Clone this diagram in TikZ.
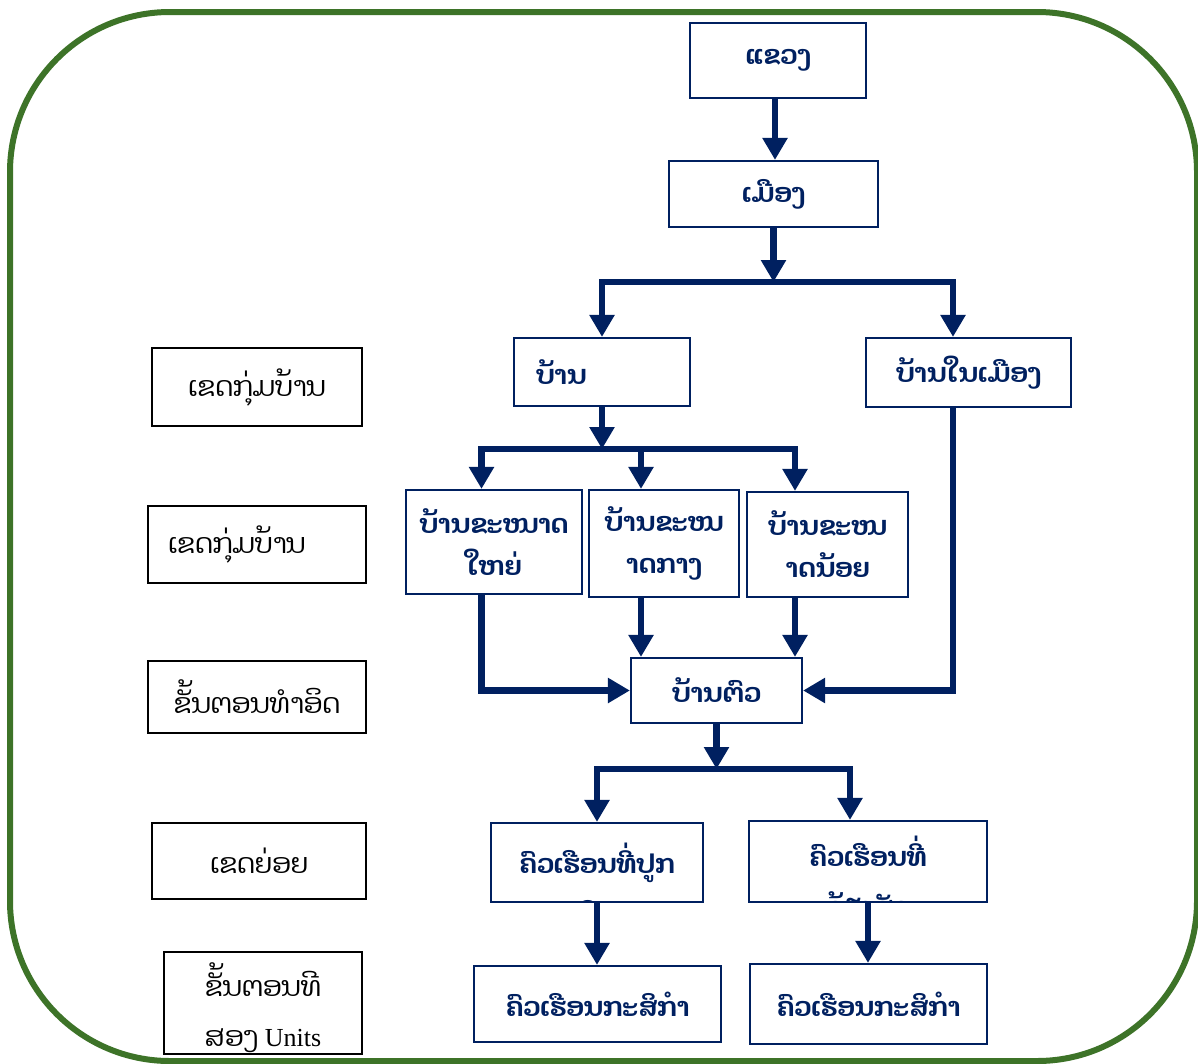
\documentclass[tikz,border=0pt]{standalone}
\usepackage{fontspec}
\setmainfont{Liberation Serif}
\newfontfamily\lao[Script=Lao]{Dhyana}
\usetikzlibrary{arrows.meta,calc}
\definecolor{navy}{RGB}{0,32,96}
\definecolor{framegreen}{RGB}{61,115,40}
\begin{document}
\begin{tikzpicture}[x=1pt,y=-1pt,
  bluebox/.style={draw=navy, line width=2.2pt, inner sep=0pt, text=navy, align=center,
    font=\lao\bfseries\fontsize{26.5}{42}\selectfont},
  bluetext/.style={inner sep=0pt, text=navy, align=center,
    font=\lao\bfseries\fontsize{26.5}{50}\selectfont},
  blackbox/.style={draw=black, line width=2.6pt, inner sep=0pt, align=center,
    font=\lao\fontsize{27.5}{50}\selectfont},
  arr/.style={draw=navy, line width=6.5pt, -{Triangle[width=24pt,length=22pt]}},
]
\useasboundingbox (0,0) rectangle (1198,1063);
\draw[framegreen, line width=6pt, rounded corners=160pt] (10,12) rectangle (1197,1061);

% right column (blue)
\node[bluebox, minimum width=176pt, minimum height=75pt] (khweng) at (778,60.5) {ແຂວງ};
\node[bluebox, minimum width=209pt, minimum height=66pt] (muang) at (773.5,194) {ເມືອງ};
\node[bluebox, minimum width=176pt, minimum height=68pt, text width=132pt, align=left] (ban) at (602,372) {ບ້ານ};
\node[bluebox, minimum width=205pt, minimum height=69pt] (banmuang) at (968.5,372.5) {ບ້ານໃນເມືອງ};
\node[bluebox, minimum width=176pt, minimum height=104pt] (big) at (494,542) {ບ້ານຂະໜາດ\\ໃຫຍ່};
\node[bluebox, minimum width=150pt, minimum height=107pt] (mid) at (664,543.5) {ບ້ານຂະໜ\\າດກາງ};
\node[bluebox, minimum width=161pt, minimum height=105pt] (small) at (827.5,544.5) {ບ້ານຂະໜ\\າດນ້ອຍ};
\node[bluebox, minimum width=171pt, minimum height=65pt] (tua) at (716.5,690.5) {ບ້ານຕົວ};
\begin{scope}
  \clip (491,823) rectangle (703,902);
  \node[bluetext] (hh1t) at (597,883) {ຄົວເຮືອນທີ່ປູກ\\ພືດ};
\end{scope}
\begin{scope}
  \clip (749,821) rectangle (987,902);
  \node[bluetext] (hh2t) at (868,880) {ຄົວເຮືອນທີ່\\ລ້ຽງສັດ};
\end{scope}
\node[bluebox, minimum width=212pt, minimum height=79pt] (hh1) at (597,862.5) {};
\node[bluebox, minimum width=238pt, minimum height=81pt] (hh2) at (868,861.5) {};
\node[bluebox, minimum width=247pt, minimum height=76pt] (ag1) at (597.5,1004) {ຄົວເຮືອນກະສິກຳ};
\node[bluebox, minimum width=237pt, minimum height=80pt] (ag2) at (868.5,1004) {ຄົວເຮືອນກະສິກຳ};

% left column (black)
\node[blackbox, minimum width=210pt, minimum height=78pt] (l1) at (257,387) {ເຂດກຸ່ມບ້ານ};
\node[blackbox, minimum width=218pt, minimum height=77pt, text width=178pt, align=left] (l2) at (257,544.5) {ເຂດກຸ່ມບ້ານ};
\node[blackbox, minimum width=218pt, minimum height=72pt] (l3) at (257,697) {ຂັ້ນຕອນທຳອິດ};
\node[blackbox, minimum width=214pt, minimum height=76pt] (l4) at (259,861) {ເຂດຍ່ອຍ};
\node[blackbox, minimum width=198pt, minimum height=102pt] (l5) at (263,1003) {};
\node[font=\lao\fontsize{27.5}{50}\selectfont, align=center, inner sep=0pt] (l5t) at (263,1008) {ຂັ້ນຕອນທີ\\ສອງ {\rmfamily\fontsize{26}{50}\selectfont Units}};

% connectors
\coordinate (b1) at (773.5,282);
\coordinate (b2) at (602,449);
\coordinate (b3) at (716.5,769);
\draw[arr] ([xshift=-3pt]khweng.south) -- ([xshift=-3pt]khweng.south |- muang.north);
\draw[arr] (muang.south) -- (b1);
\draw[arr] (b1) -| (ban.north);
\draw[arr] (b1) -| ([xshift=-15.5pt]banmuang.north);
\draw[arr] (ban.south) -- (b2);
\draw[arr] (b2) -| ([xshift=-12.5pt]big.north);
\draw[arr] (b2) -| ([xshift=-23pt]mid.north);
\draw[arr] (b2) -| ([xshift=-32.5pt]small.north);
\draw[arr] ([xshift=-12.5pt]big.south) |- (tua.west);
\draw[arr] ([xshift=-23pt]mid.south) -- ([xshift=-23pt]mid.south |- tua.north);
\draw[arr] ([xshift=-32.5pt]small.south) -- ([xshift=-32.5pt]small.south |- tua.north);
\draw[arr] ([xshift=-15.5pt]banmuang.south) |- (tua.east);
\draw[arr] (tua.south) -- (b3);
\draw[arr] (b3) -| (hh1.north);
\draw[arr] (b3) -| ([xshift=-18pt]hh2.north);
\draw[arr] (hh1.south) -- (hh1.south |- ag1.north);
\draw[arr] (hh2.south) -- (hh2.south |- ag2.north);
\end{tikzpicture}
\end{document}
